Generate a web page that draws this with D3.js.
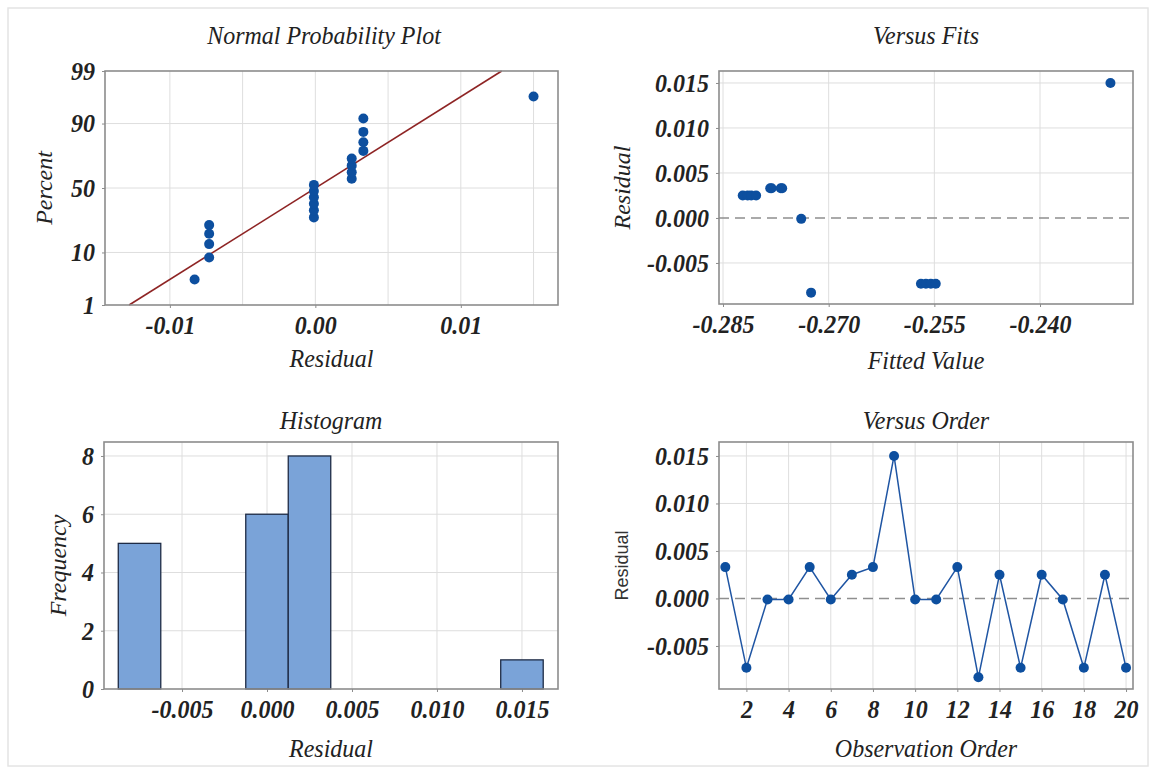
<!DOCTYPE html>
<html>
<head>
<meta charset="utf-8">
<script src="https://cdn.jsdelivr.net/npm/d3@7"></script>
<style>
  body { margin: 0; background: #fff; }
  svg text { font-family: "Liberation Serif", "Times New Roman", serif; fill: #222; }
  .tick text { font-weight: bold; font-style: italic; font-size: 24px; }
  .title { font-style: italic; font-size: 24px; }
  .axis-title { font-style: italic; font-size: 24px; }
  .tick text, .title, .x-title { transform-box: fill-box; transform-origin: center; transform: scaleY(1.08); }
</style>
</head>
<body>
<div id="chart"></div>
<script>
const width = 1153;
const height = 771;

// residuals by observation order
const residuals = [0.0033, -0.0073, -0.0001, -0.0001, 0.0033, -0.0001, 0.0025, 0.0033, 0.015, -0.0001,
                   -0.0001, 0.0033, -0.0083, 0.0025, -0.0073, 0.0025, -0.0001, -0.0073, 0.0025, -0.0073];
// fitted values, same order
const fits = [-0.2783, -0.2569, -0.2739, -0.2739, -0.2781, -0.2739, -0.2822, -0.2768, -0.2300, -0.2739,
              -0.2739, -0.2766, -0.2725, -0.2815, -0.2562, -0.2810, -0.2739, -0.2555, -0.2803, -0.2548];
const observation = d3.range(1, residuals.length + 1);

const percentTicks = [1, 10, 50, 90, 99];
const normXTicks = [-0.01, 0, 0.01];
const normXGrid = [-0.01, -0.005, 0, 0.005, 0.01, 0.015];
const fitTicks = [-0.285, -0.27, -0.255, -0.24];
const residTicks = [-0.005, 0, 0.005, 0.01, 0.015];
const histXTicks = [-0.005, 0, 0.005, 0.01, 0.015];
const freqTicks = [0, 2, 4, 6, 8];
const orderTicks = [2, 4, 6, 8, 10, 12, 14, 16, 18, 20];
const binEdges = [-0.00875, -0.00625, -0.00375, -0.00125, 0.00125, 0.00375, 0.00625, 0.00875, 0.01125, 0.01375, 0.01625];

const blue = "#0d4f9f";
const gridColor = "#dedede";
const frameColor = "#8c8c8c";

const svg = d3.select("#chart").append("svg").attr("width", width).attr("height", height);

// light outer border
svg.append("rect")
  .attr("x", 8).attr("y", 8).attr("width", 1140).attr("height", 758)
  .attr("fill", "none").attr("stroke", "#e4e4e4").attr("stroke-width", 1.5);

const fmt = (spec) => (d) => d3.format(spec)(d).replace("\u2212", "-");

// inverse normal cdf (Acklam)
function probit(p) {
  const a = [-39.69683028665376, 220.9460984245205, -275.9285104469687, 138.357751867269, -30.66479806614716, 2.506628277459239];
  const b = [-54.47609879822406, 161.5858368580409, -155.6989798598866, 66.80131188771972, -13.28068155288572];
  const c = [-0.007784894002430293, -0.3223964580411365, -2.400758277161838, -2.549732539343734, 4.374664141464968, 2.938163982698783];
  const d = [0.007784695709041462, 0.3224671290700398, 2.445134137142996, 3.754408661907416];
  const pl = 0.02425;
  let q, r;
  if (p < pl) {
    q = Math.sqrt(-2 * Math.log(p));
    return (((((c[0] * q + c[1]) * q + c[2]) * q + c[3]) * q + c[4]) * q + c[5]) / ((((d[0] * q + d[1]) * q + d[2]) * q + d[3]) * q + 1);
  }
  if (p > 1 - pl) {
    q = Math.sqrt(-2 * Math.log(1 - p));
    return -(((((c[0] * q + c[1]) * q + c[2]) * q + c[3]) * q + c[4]) * q + c[5]) / ((((d[0] * q + d[1]) * q + d[2]) * q + d[3]) * q + 1);
  }
  q = p - 0.5;
  r = q * q;
  return (((((a[0] * r + a[1]) * r + a[2]) * r + a[3]) * r + a[4]) * r + a[5]) * q / (((((b[0] * r + b[1]) * r + b[2]) * r + b[3]) * r + b[4]) * r + 1);
}

// sets up one panel: frame, grid, axes, titles
function panel(opts) {
  const { x, y, box, title, titleY, xTitle, xTitleY, yTitle, yTitleX, yTitleSans } = opts;
  const g = svg.append("g");

  // grid
  g.append("g").selectAll("line").data(opts.xGrid).join("line")
    .attr("x1", d => x(d)).attr("x2", d => x(d)).attr("y1", box.top).attr("y2", box.bottom)
    .attr("stroke", gridColor).attr("stroke-width", 1);
  g.append("g").selectAll("line").data(opts.yGrid).join("line")
    .attr("x1", box.left).attr("x2", box.right).attr("y1", d => y(d)).attr("y2", d => y(d))
    .attr("stroke", gridColor).attr("stroke-width", 1);

  const xAxis = g.append("g").attr("transform", `translate(0,${box.bottom})`)
    .call(d3.axisBottom(x).tickValues(opts.xTicks).tickFormat(opts.xFormat).tickSize(3).tickPadding(8));
  const yAxis = g.append("g").attr("transform", `translate(${box.left},0)`)
    .call(d3.axisLeft(y).tickValues(opts.yTicks).tickFormat(opts.yFormat).tickSize(3).tickPadding(7));
  [xAxis, yAxis].forEach(a => {
    a.select(".domain").remove();
    a.selectAll(".tick line").attr("stroke", frameColor);
    a.selectAll(".tick text").attr("fill", "#222").attr("font-family", null).attr("font-size", null);
  });

  // plot content goes here
  const content = g.append("g");

  g.append("rect")
    .attr("x", box.left).attr("y", box.top)
    .attr("width", box.right - box.left).attr("height", box.bottom - box.top)
    .attr("fill", "none").attr("stroke", frameColor).attr("stroke-width", 1.6);

  const cx = (box.left + box.right) / 2;
  g.append("text").attr("class", "title").attr("x", opts.titleX || cx).attr("y", titleY)
    .attr("text-anchor", "middle").text(title);
  g.append("text").attr("class", "axis-title x-title").attr("x", cx).attr("y", xTitleY)
    .attr("text-anchor", "middle").text(xTitle);
  const yt = g.append("text")
    .attr("transform", `translate(${yTitleX},${(box.top + box.bottom) / 2}) rotate(-90)`)
    .attr("text-anchor", "middle").attr("dy", "0.35em").text(yTitle);
  if (yTitleSans) {
    yt.style("font-family", "'Liberation Sans', Arial, sans-serif").style("font-size", "18px").style("fill", "#333");
  } else {
    yt.attr("class", "axis-title");
  }
  return content;
}

// ---------- Normal probability plot ----------
{
  const box = { left: 105, right: 558, top: 71, bottom: 305 };
  const x = d3.scaleLinear().domain([-0.01446, 0.01668]).range([box.left, box.right]);
  const y = d3.scaleLinear().domain([probit(0.01), probit(0.99)]).range([box.bottom, box.top]);
  // percent axis drawn through the probit scale
  const yAxisScale = p => y(probit(p / 100));
  yAxisScale.copy = () => yAxisScale;
  yAxisScale.range = () => [box.bottom, box.top];
  yAxisScale.domain = () => [1, 99];

  const content = panel({
    x, y: yAxisScale, box,
    xGrid: normXGrid, yGrid: [10, 50, 90],
    xTicks: normXTicks, yTicks: percentTicks,
    xFormat: fmt(".2f"), yFormat: d => d,
    title: "Normal Probability Plot", titleY: 43, titleX: 324,
    xTitle: "Residual", xTitleY: 366,
    yTitle: "Percent", yTitleX: 44
  });

  const n = residuals.length;
  const sorted = residuals.slice().sort(d3.ascending);
  const pts = sorted.map((r, i) => ({ r, p: (i + 1 - 0.3) / (n + 0.4) }));

  const mu = d3.mean(residuals);
  const sd = d3.deviation(residuals);
  const z0 = probit(0.01), z1 = probit(0.99);
  content.append("line")
    .attr("x1", x(mu + z0 * sd)).attr("y1", y(z0))
    .attr("x2", x(mu + z1 * sd)).attr("y2", y(z1))
    .attr("stroke", "#8e2424").attr("stroke-width", 1.6);

  content.selectAll("circle").data(pts).join("circle")
    .attr("cx", d => x(d.r)).attr("cy", d => y(probit(d.p)))
    .attr("r", 5).attr("fill", blue);
}

// ---------- Versus fits ----------
{
  const box = { left: 719, right: 1133, top: 71, bottom: 304 };
  const x = d3.scaleLinear().domain([-0.28557, -0.2268]).range([box.left, box.right]);
  const y = d3.scaleLinear().domain([-0.00956, 0.01633]).range([box.bottom, box.top]);

  const content = panel({
    x, y, box,
    xGrid: fitTicks, yGrid: residTicks.filter(d => d !== 0),
    xTicks: fitTicks, yTicks: residTicks,
    xFormat: fmt(".3f"), yFormat: fmt(".3f"),
    title: "Versus Fits", titleY: 43,
    xTitle: "Fitted Value", xTitleY: 368,
    yTitle: "Residual", yTitleX: 622
  });

  content.append("line")
    .attr("x1", box.left).attr("x2", box.right).attr("y1", y(0)).attr("y2", y(0))
    .attr("stroke", "#8f8f8f").attr("stroke-width", 1.6).attr("stroke-dasharray", "10,6");

  // identical (fit, residual) pairs sit on one spot, draw them once
  const pairs = d3.groups(fits.map((f, i) => ({ f, r: residuals[i] })), d => d.f + "|" + d.r)
    .map(([, v]) => v[0]);
  content.selectAll("circle").data(pairs).join("circle")
    .attr("cx", d => x(d.f)).attr("cy", d => y(d.r))
    .attr("r", 5).attr("fill", blue);
}

// ---------- Histogram ----------
{
  const box = { left: 104, right: 558, top: 442, bottom: 689 };
  const x = d3.scaleLinear().domain([-0.00959, 0.01712]).range([box.left, box.right]);
  const y = d3.scaleLinear().domain([0, 8.48]).range([box.bottom, box.top]);

  const content = panel({
    x, y, box,
    xGrid: histXTicks, yGrid: [2, 4, 6, 8],
    xTicks: histXTicks, yTicks: freqTicks,
    xFormat: fmt(".3f"), yFormat: d => d,
    title: "Histogram", titleY: 428,
    xTitle: "Residual", xTitleY: 756,
    yTitle: "Frequency", yTitleX: 58
  });

  const bins = d3.bin().domain([binEdges[0], binEdges[binEdges.length - 1]])
    .thresholds(binEdges.slice(1, -1))(residuals);

  content.selectAll("rect").data(bins).join("rect")
    .attr("x", d => x(d.x0)).attr("width", d => x(d.x1) - x(d.x0))
    .attr("y", d => y(d.length)).attr("height", d => y(0) - y(d.length))
    .attr("fill", "#7aa3d8").attr("stroke", "#1e2b45").attr("stroke-width", 1.3);
}

// ---------- Versus order ----------
{
  const box = { left: 719, right: 1133, top: 442, bottom: 689 };
  const x = d3.scaleLinear().domain([0.7, 20.33]).range([box.left, box.right]);
  const y = d3.scaleLinear().domain([-0.00953, 0.01647]).range([box.bottom, box.top]);

  const content = panel({
    x, y, box,
    xGrid: orderTicks, yGrid: residTicks.filter(d => d !== 0),
    xTicks: orderTicks, yTicks: residTicks,
    xFormat: d => d, yFormat: fmt(".3f"),
    title: "Versus Order", titleY: 428,
    xTitle: "Observation Order", xTitleY: 756,
    yTitle: "Residual", yTitleX: 622, yTitleSans: true
  });

  content.append("line")
    .attr("x1", box.left).attr("x2", box.right).attr("y1", y(0)).attr("y2", y(0))
    .attr("stroke", "#8f8f8f").attr("stroke-width", 1.6).attr("stroke-dasharray", "10,6");

  const line = d3.line().x(d => x(d[0])).y(d => y(d[1]));
  const pts = observation.map((o, i) => [o, residuals[i]]);
  content.append("path").datum(pts).attr("d", line)
    .attr("fill", "none").attr("stroke", "#1f55a3").attr("stroke-width", 1.5);
  content.selectAll("circle").data(pts).join("circle")
    .attr("cx", d => x(d[0])).attr("cy", d => y(d[1]))
    .attr("r", 5).attr("fill", blue);
}
</script>
</body>
</html>
